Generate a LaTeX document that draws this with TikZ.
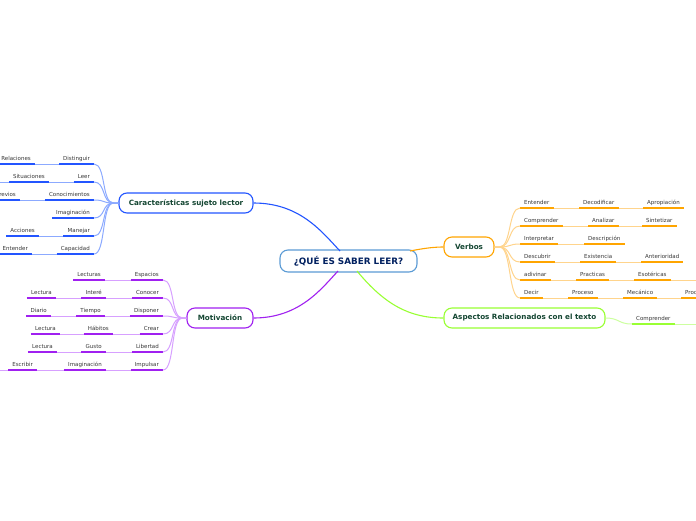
\documentclass[tikz,border=0pt]{standalone}
\usepackage{fontspec}
\setmainfont{DejaVu Sans}
\definecolor{bluem}{RGB}{35,85,255}
\definecolor{bluel}{RGB}{140,170,255}
\definecolor{purm}{RGB}{160,32,240}
\definecolor{purl}{RGB}{215,160,255}
\definecolor{orm}{RGB}{255,165,0}
\definecolor{orl}{RGB}{255,212,140}
\definecolor{grm}{RGB}{153,255,51}
\definecolor{grl}{RGB}{205,255,160}
\definecolor{ctrc}{RGB}{91,155,213}
\definecolor{ctrt}{RGB}{0,32,96}
\definecolor{mtxt}{RGB}{20,70,50}
\definecolor{ltxt}{RGB}{55,55,55}
\tikzset{
  mainbox/.style={draw, rounded corners=8pt, line width=1.1pt, fill=white,
    font=\bfseries\fontsize{7.2}{8}\selectfont, text=mtxt, minimum height=20pt, inner xsep=0pt},
  leaf/.style={font=\fontsize{5.5}{6}\selectfont, text=ltxt, inner xsep=4pt, inner ysep=1.5pt,
    text height=4pt, text depth=1.5pt},
  lf/.style={leaf, anchor=south east},
  rt/.style={leaf, anchor=south west},
  ulb/.style={draw=bluem, line width=1.9pt},
  ulp/.style={draw=purm, line width=1.9pt},
  ulo/.style={draw=orm, line width=1.9pt},
  ulg/.style={draw=grm, line width=1.9pt},
  lkb/.style={draw=bluel, line width=1pt},
  lkp/.style={draw=purl, line width=1pt},
  lko/.style={draw=orl, line width=1pt},
  lkg/.style={draw=grl, line width=1pt},
}
\begin{document}
\begin{tikzpicture}[x=1pt,y=-1pt]
\useasboundingbox (0,0) rectangle (696,520);
\fill[white] (0,0) rectangle (696,520);

\coordinate (pA) at (340,251);
\coordinate (pB) at (338,271);
\coordinate (pC) at (357,271);
\coordinate (pD) at (410,251);

% main nodes
\node[mainbox, draw=ctrc, text=ctrt, font=\bfseries\fontsize{8.8}{10}\selectfont,
      minimum width=137pt, minimum height=22pt] (ctr) at (348.5,261) {¿QUÉ ES SABER LEER?};
\node[mainbox, draw=bluem, minimum width=134pt] (car) at (186,203) {Características sujeto lector};
\node[mainbox, draw=orm, minimum width=50pt] (ver) at (469,247) {Verbos};
\node[mainbox, draw=purm, minimum width=66pt] (mot) at (220,318) {Motivación};
\node[mainbox, draw=grm, minimum width=161pt] (asp) at (524.5,318) {Aspectos Relacionados con el texto};

% main connectors
\draw[draw=bluem, line width=1.1pt] (car.east) .. controls (300,203) and (322,232) .. (pA);
\draw[draw=purm, line width=1.1pt] (mot.east) .. controls (300,318) and (322,288) .. (pB);
\draw[draw=grm, line width=1.1pt] (pC) .. controls (385,305) and (410,318) .. (asp.west);
\draw[draw=orm, line width=1.1pt] (pD) .. controls (425,248) and (435,247) .. (ver.west);

% Caracteristicas leaves
\node[lf] (c1) at (94,164) {Distinguir};
\node[lf] (c1a) at (35,164) {Relaciones};
\node[lf] (c2) at (94,182) {Leer};
\node[lf] (c2a) at (49,182) {Situaciones};
\coordinate (c2b) at (-6,182);
\node[lf] (c3) at (94,200) {Conocimientos};
\node[lf] (c3a) at (20,200) {Previos};
\node[lf] (c4) at (94,218) {Imaginación};
\node[lf] (c5) at (94,236) {Manejar};
\node[lf] (c5a) at (39,236) {Acciones};
\node[lf] (c6) at (94,254) {Capacidad};
\node[lf] (c6a) at (32,254) {Entender};
\foreach \n in {c1,c1a,c2,c2a,c3,c3a,c4,c5,c5a,c6,c6a}
  \draw[ulb] (\n.south west) -- (\n.south east);
\foreach \a/\b in {c1a/c1,c2a/c2,c3a/c3,c5a/c5,c6a/c6}
  \draw[lkb] (\a.south east) -- (\b.south west);
\draw[lkb] (c2b) -- (c2a.south west);
\foreach \n in {c1,c2,c3,c4,c5,c6}
  \draw[lkb] (car.west) -- ++(-5,0) .. controls +(-12,0) and +(12,0) .. (\n.south east);

% Motivacion leaves
\node[lf] (m1) at (163,280) {Espacios};
\node[lf] (m1a) at (105,280) {Lecturas};
\node[lf] (m2) at (163,298) {Conocer};
\node[lf] (m2a) at (106,298) {Interé};
\node[lf] (m2b) at (56,298) {Lectura};
\node[lf] (m3) at (163,316) {Disponer};
\node[lf] (m3a) at (105,316) {Tiempo};
\node[lf] (m3b) at (51,316) {Diario};
\node[lf] (m4) at (163,334) {Crear};
\node[lf] (m4a) at (113,334) {Hábitos};
\node[lf] (m4b) at (60,334) {Lectura};
\node[lf] (m5) at (163,352) {Libertad};
\node[lf] (m5a) at (106,352) {Gusto};
\node[lf] (m5b) at (57,352) {Lectura};
\node[lf] (m6) at (163,370) {Impulsar};
\node[lf] (m6a) at (106,370) {Imaginación};
\node[lf] (m6b) at (37,370) {Escribir};
\coordinate (m6c) at (-6,370);
\foreach \n in {m1,m1a,m2,m2a,m2b,m3,m3a,m3b,m4,m4a,m4b,m5,m5a,m5b,m6,m6a,m6b}
  \draw[ulp] (\n.south west) -- (\n.south east);
\foreach \a/\b in {m1a/m1,m2a/m2,m2b/m2a,m3a/m3,m3b/m3a,m4a/m4,m4b/m4a,m5a/m5,m5b/m5a,m6a/m6,m6b/m6a}
  \draw[lkp] (\a.south east) -- (\b.south west);
\draw[lkp] (m6c) -- (m6b.south west);
\foreach \n in {m1,m2,m3,m4,m5,m6}
  \draw[lkp] (mot.west) -- ++(-4,0) .. controls +(-12,0) and +(12,0) .. (\n.south east);

% Verbos leaves
\node[rt] (v1) at (520,208) {Entender};
\node[rt] (v1a) at (579,208) {Decodificar};
\node[rt] (v1b) at (643,208) {Apropiación};
\node[rt] (v2) at (520,226) {Comprender};
\node[rt] (v2a) at (588,226) {Analizar};
\node[rt] (v2b) at (642,226) {Sintetizar};
\node[rt] (v3) at (520,244) {Interpretar};
\node[rt] (v3a) at (584,244) {Descripción};
\node[rt] (v4) at (520,262) {Descubrir};
\node[rt] (v4a) at (580,262) {Existencia};
\node[rt] (v4b) at (641,262) {Anterioridad};
\node[rt] (v5) at (520,280) {adivinar};
\node[rt] (v5a) at (576,280) {Practicas};
\node[rt] (v5b) at (634,280) {Esotéricas};
\coordinate (v5c) at (702,280);
\node[rt] (v6) at (520,298) {Decir};
\node[rt] (v6a) at (568,298) {Proceso};
\node[rt] (v6b) at (623,298) {Mecánico};
\node[rt] (v6c) at (681,298) {Proceso};
\foreach \n in {v1,v1a,v1b,v2,v2a,v2b,v3,v3a,v4,v4a,v4b,v5,v5a,v5b,v6,v6a,v6b,v6c}
  \draw[ulo] (\n.south west) -- (\n.south east);
\foreach \a/\b in {v1/v1a,v1a/v1b,v2/v2a,v2a/v2b,v3/v3a,v4/v4a,v4a/v4b,v5/v5a,v5a/v5b,v6/v6a,v6a/v6b,v6b/v6c}
  \draw[lko] (\a.south east) -- (\b.south west);
\draw[lko] (v5b.south east) -- (v5c);
\foreach \n in {v1,v2,v3,v4,v5,v6}
  \draw[lko] (ver.east) -- ++(5,0) .. controls +(12,0) and +(-12,0) .. (\n.south west);

% Aspectos leaf
\node[rt] (a1) at (632,324) {Comprender};
\coordinate (a1b) at (702,324);
\draw[ulg] (a1.south west) -- (a1.south east);
\draw[lkg] (a1.south east) -- (a1b);
\draw[lkg] (asp.east) .. controls +(14,0) and +(-14,0) .. (a1.south west);
\end{tikzpicture}
\end{document}
